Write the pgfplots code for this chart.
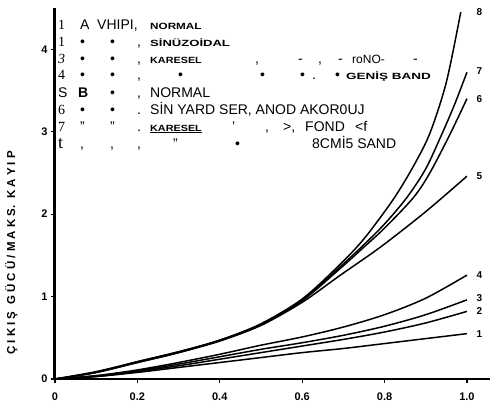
\documentclass[border=0pt]{standalone}
\usepackage{pgfplots}
\pgfplotsset{compat=1.18}
\usepackage{graphicx}
\usepackage{fontspec}
\setmainfont{Liberation Sans}
\newfontfamily\serif{Liberation Serif}
\newcommand{\T}[3]{\node[anchor=base west,inner sep=0pt] at ({#1-55},{379-#2}) {#3};}
\newcommand{\B}[2]{\scalebox{#1}[1]{\fontsize{9}{9}\selectfont\bfseries #2}}
\begin{document}
\begin{tikzpicture}[x=1pt,y=1pt]
\path[use as bounding box] (-55,-29) rectangle (435,379);
\begin{axis}[
  scale only axis, width=435pt, height=371pt,
  at={(0,0)}, anchor=south west,
  xmin=0, xmax=1.056, ymin=0, ymax=4.5,
  axis lines=left,
  x axis line style={-, line width=2pt},
  y axis line style={-, line width=3pt},
  tick align=outside, major tick length=4pt,
  tick style={line width=1.2pt, black},
  xtick={0,0.2,0.4,0.6,0.8,1.0},
  xticklabels={0,0.2,0.4,0.6,0.8,1.0},
  ytick={0,1,2,3,4},
  yticklabels={0,1,2,3,4},
  ticklabel style={font=\bfseries\fontsize{11}{11}\selectfont},
  xticklabel style={yshift=-6pt},
  ylabel={\bfseries\fontsize{11.5}{12}\selectfont Ç I K I Ş\ \ G Ü C Ü / M A K S.\ \ K A Y I P},
  ylabel style={at={(axis description cs:-0.1,0.34)}, anchor=center},
  clip=false,
  every axis plot post/.append style={black, solid, line width=1.5pt, smooth, mark=none},
]
% curve 1
\addplot coordinates {(0,0) (0.1,0.03) (0.2,0.08) (0.3,0.14) (0.4,0.2) (0.5,0.26) (0.6,0.32) (0.7,0.37) (0.8,0.43) (0.9,0.49) (1.0,0.55)};
% curve 2
\addplot coordinates {(0,0) (0.1,0.03) (0.2,0.09) (0.3,0.16) (0.4,0.24) (0.5,0.32) (0.6,0.4) (0.7,0.48) (0.8,0.57) (0.9,0.68) (1.0,0.82)};
% curve 3
\addplot coordinates {(0,0) (0.1,0.04) (0.2,0.1) (0.3,0.18) (0.4,0.27) (0.5,0.36) (0.6,0.44) (0.7,0.53) (0.8,0.64) (0.9,0.78) (1.0,0.96)};
% curve 4
\addplot coordinates {(0,0) (0.1,0.04) (0.2,0.11) (0.3,0.2) (0.4,0.3) (0.5,0.41) (0.6,0.51) (0.7,0.63) (0.8,0.78) (0.9,0.98) (1.0,1.26)};
% curve 5
\addplot coordinates {(0,0) (0.1,0.08) (0.2,0.2) (0.3,0.32) (0.4,0.46) (0.5,0.65) (0.6,0.93) (0.69,1.25) (0.79,1.6) (0.9,2.03) (1.0,2.46)};
% curve 6
\addplot coordinates {(0,0) (0.1,0.08) (0.2,0.2) (0.3,0.32) (0.4,0.47) (0.5,0.66) (0.6,0.95) (0.69,1.33) (0.75,1.6) (0.8,1.83) (0.87,2.2) (0.91,2.5) (0.96,2.98) (1.0,3.4)};
% curve 7
\addplot coordinates {(0,0) (0.1,0.08) (0.2,0.21) (0.3,0.33) (0.4,0.47) (0.5,0.66) (0.6,0.96) (0.69,1.35) (0.75,1.63) (0.8,1.88) (0.854,2.2) (0.9,2.55) (0.94,2.98) (0.97,3.33) (1.0,3.72)};
% curve 8
\addplot coordinates {(0,0) (0.1,0.09) (0.2,0.21) (0.3,0.33) (0.4,0.47) (0.5,0.67) (0.6,0.97) (0.69,1.38) (0.75,1.7) (0.82,2.17) (0.87,2.58) (0.91,2.98) (0.95,3.6) (0.985,4.45)};
\node[anchor=west,font=\bfseries\fontsize{10}{10}\selectfont] at (axis cs:1.015,4.45) {8};
\node[anchor=west,font=\bfseries\fontsize{10}{10}\selectfont] at (axis cs:1.015,3.74) {7};
\node[anchor=west,font=\bfseries\fontsize{10}{10}\selectfont] at (axis cs:1.015,3.4) {6};
\node[anchor=west,font=\bfseries\fontsize{10}{10}\selectfont] at (axis cs:1.015,2.46) {5};
\node[anchor=west,font=\bfseries\fontsize{10}{10}\selectfont] at (axis cs:1.015,1.26) {4};
\node[anchor=west,font=\bfseries\fontsize{10}{10}\selectfont] at (axis cs:1.015,0.98) {3};
\node[anchor=west,font=\bfseries\fontsize{10}{10}\selectfont] at (axis cs:1.015,0.82) {2};
\node[anchor=west,font=\bfseries\fontsize{10}{10}\selectfont] at (axis cs:1.015,0.55) {1};
\end{axis}
\begin{scope}[font=\fontsize{14}{14}\selectfont]
% line 1
\T{58}{30}{\serif 1}\T{80}{30}{A}\T{97}{30}{VHIPI,}\T{150}{30}{\B{1.3}{NORMAL}}
% line 2
\T{58}{47}{\serif 1}\T{80}{47}{•}\T{110}{47}{•}\T{137}{47}{,}\T{150}{47}{\B{1.45}{SİNÜZOİDAL}}
% line 3
\T{58}{63}{\serif\itshape 3}\T{80}{63}{•}\T{110}{63}{•}\T{137}{63}{,}\T{150}{63}{\B{1.2}{KARESEL}}
\T{255}{63}{,}\T{298}{63}{-}\T{318}{63}{,}\T{338}{63}{-}\T{352}{63}{\fontsize{12}{12}\selectfont roNO-}\T{413}{63}{-}
% line 4
\T{58}{80}{\serif 4}\T{80}{80}{•}\T{110}{80}{•}\T{137}{80}{,}\T{178}{80}{•}\T{260}{80}{•}\T{300}{80}{•}\T{312}{80}{.}\T{335}{80}{•}\T{346}{80}{\B{1.5}{GENİŞ BAND}}
% line 5
\T{58}{97}{S}\T{78}{97}{\bfseries B}\T{110}{97}{•}\T{137}{97}{,}\T{150}{97}{NORMAL}
% line 6
\T{58}{114}{\serif 6}\T{80}{114}{•}\T{110}{114}{•}\T{137}{114}{.}\T{150}{114}{SİN YARD SER, ANOD AKOR0UJ}
% line 7
\T{58}{131}{\serif 7}\T{80}{131}{"}\T{110}{131}{"}\T{137}{131}{.}\T{150}{131}{\underline{\B{1.2}{KARESEL}}}\T{232}{131}{'}\T{265}{131}{,}\T{283}{131}{>,}\T{305}{131}{FOND}\T{355}{131}{<f}
% line 8
\T{58}{148}{\serif\fontsize{18}{18}\selectfont t}\T{80}{148}{,}\T{110}{148}{,}\T{137}{148}{,}\T{173}{148}{''}\T{235}{148}{•}\T{312}{148}{8CMİ5 SAND}
\end{scope}
\end{tikzpicture}
\end{document}
